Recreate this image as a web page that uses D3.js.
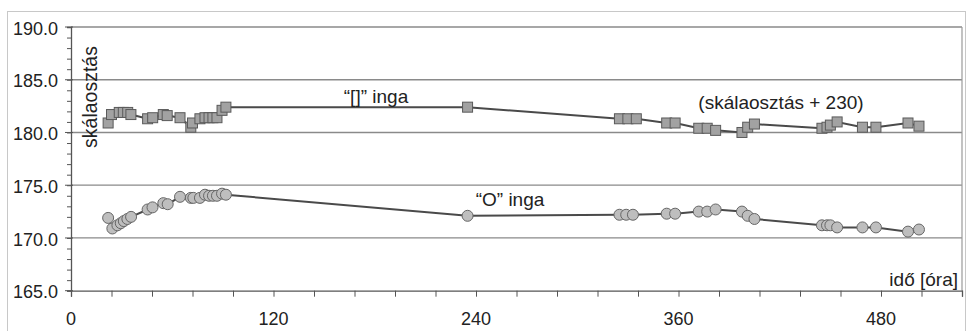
<!DOCTYPE html>
<html>
<head>
<meta charset="utf-8">
<script src="https://cdn.jsdelivr.net/npm/d3@7"></script>
<style>
  body { margin: 0; background: #fff; }
  text { font-family: Arial, "Liberation Sans", sans-serif; fill: #222; }
</style>
</head>
<body>
<div id="chart"></div>
<script>
// "[]" inga (skálaosztás + 230)
const squareX = [22, 24, 28.6, 31, 33.6, 35.5, 45.4, 48.4, 54.7, 57, 64.6, 71, 72, 76.4, 79.4, 81.8, 84.1, 86.5, 89.5, 91.8,
  235, 325, 330, 335, 353, 358, 372, 377, 382, 397.6, 401, 405, 445, 448, 450, 454, 469, 477, 496, 502.5];
const squareY = [180.9, 181.7, 181.9, 181.9, 181.9, 181.7, 181.3, 181.4, 181.7, 181.6, 181.4, 180.5, 180.9, 181.3, 181.4, 181.4, 181.4, 181.4, 182.1, 182.4,
  182.4, 181.3, 181.3, 181.3, 180.9, 180.9, 180.4, 180.4, 180.2, 180.0, 180.5, 180.8, 180.4, 180.5, 180.7, 181.0, 180.5, 180.5, 180.9, 180.6];

// "O" inga
const circleX = [22, 24.5, 27.5, 29.5, 31.3, 33.4, 35.6, 45.4, 48.3, 54.7, 57.3, 64.6, 71, 72.5, 76.4, 79.4, 81.8, 84.1, 86.5, 89.5, 91.8,
  235, 325, 329, 333, 353, 358, 372, 377, 382, 397.6, 401, 405, 445, 448, 450, 454, 469, 477, 496, 502.5];
const circleY = [171.9, 170.9, 171.2, 171.4, 171.6, 171.8, 172.0, 172.7, 172.9, 173.3, 173.2, 173.9, 173.8, 173.8, 173.8, 174.1, 174.0, 174.0, 174.0, 174.2, 174.1,
  172.1, 172.2, 172.2, 172.2, 172.3, 172.3, 172.5, 172.5, 172.7, 172.5, 172.1, 171.8, 171.2, 171.2, 171.2, 171.0, 171.0, 171.0, 170.6, 170.8];

const xTickLabels = [0, 120, 240, 360, 480];
const yTickLabels = [165, 170, 175, 180, 185, 190];

const W = 967, H = 331;
const svg = d3.select('#chart').append('svg').attr('width', W).attr('height', H);

// outer chart frame
svg.append('rect')
  .attr('x', 7.5).attr('y', 11.5)
  .attr('width', 958).attr('height', 330)
  .attr('fill', 'none').attr('stroke', '#c8c8c8');

const x = d3.scaleLinear().domain([0, 528]).range([71, 962]);
const y = d3.scaleLinear().domain([165, 190]).range([290.7, 27]);

// gridlines
svg.append('g')
  .selectAll('line')
  .data([170, 175, 180, 185, 190])
  .enter().append('line')
  .attr('x1', x(0)).attr('x2', x(528))
  .attr('y1', d => y(d)).attr('y2', d => y(d))
  .attr('stroke', '#8a8a8a').attr('stroke-width', 1.3);

// right border of plot area
svg.append('line')
  .attr('x1', x(528)).attr('x2', x(528))
  .attr('y1', y(190)).attr('y2', y(165))
  .attr('stroke', '#9a9a9a').attr('stroke-width', 1.2);

// y axis
const yAxis = svg.append('g').attr('transform', `translate(${x(0)},0)`);
yAxis.call(d3.axisLeft(y).tickValues(d3.range(165, 190.1, 1)).tickSize(4).tickFormat(''));
yAxis.call(g => g.selectAll('.tick line').attr('stroke', '#555'));
yAxis.selectAll('.major')
  .data(yTickLabels)
  .enter().append('line')
  .attr('x1', -6).attr('x2', 2)
  .attr('y1', d => y(d)).attr('y2', d => y(d))
  .attr('stroke', '#555');
yAxis.select('.domain').attr('stroke', '#555').attr('stroke-width', 1.3);
yAxis.selectAll('.lbl')
  .data(yTickLabels)
  .enter().append('text')
  .attr('x', -13).attr('y', d => y(d))
  .attr('dy', '0.42em')
  .attr('text-anchor', 'end')
  .style('font-size', '18px')
  .text(d => d.toFixed(1));

// x axis
const xAxis = svg.append('g').attr('transform', `translate(0,${y(165)})`);
xAxis.call(d3.axisBottom(x).tickValues(d3.range(0, 529, 24)).tickSize(6).tickFormat(''));
xAxis.call(g => g.selectAll('.tick line').attr('stroke', '#555'));
xAxis.select('.domain').attr('stroke', '#555').attr('stroke-width', 1.3);
xAxis.selectAll('.lbl')
  .data(xTickLabels)
  .enter().append('text')
  .attr('x', d => x(d)).attr('y', 34)
  .attr('text-anchor', 'middle')
  .style('font-size', '18px')
  .text(d => d);

const line = d3.line().x(d => x(d[0])).y(d => y(d[1]));
const squares = squareX.map((v, i) => [v, squareY[i]]);
const circles = circleX.map((v, i) => [v, circleY[i]]);

// series lines
svg.append('path').datum(squares).attr('d', line)
  .attr('fill', 'none').attr('stroke', '#4a4a4a').attr('stroke-width', 2);
svg.append('path').datum(circles).attr('d', line)
  .attr('fill', 'none').attr('stroke', '#4a4a4a').attr('stroke-width', 2);

// markers
const SQ = 10;
svg.append('g').selectAll('rect')
  .data(squares)
  .enter().append('rect')
  .attr('x', d => x(d[0]) - SQ / 2).attr('y', d => y(d[1]) - SQ / 2)
  .attr('width', SQ).attr('height', SQ)
  .attr('fill', '#a2a2a2').attr('stroke', '#5a5a5a').attr('stroke-width', 1);

svg.append('g').selectAll('circle')
  .data(circles)
  .enter().append('circle')
  .attr('cx', d => x(d[0])).attr('cy', d => y(d[1]))
  .attr('r', 5.5)
  .attr('fill', '#bebebe').attr('stroke', '#666').attr('stroke-width', 1);

// texts
svg.append('text')
  .attr('transform', `translate(97,97) rotate(-90)`)
  .attr('text-anchor', 'middle')
  .style('font-size', '19.5px')
  .text('skálaosztás');

svg.append('text').attr('x', 376).attr('y', 103).attr('text-anchor', 'middle')
  .style('font-size', '19px').text('“[]” inga');
svg.append('text').attr('x', 781).attr('y', 109).attr('text-anchor', 'middle')
  .style('font-size', '19px').text('(skálaosztás + 230)');
svg.append('text').attr('x', 510).attr('y', 206).attr('text-anchor', 'middle')
  .style('font-size', '19px').text('“O” inga');
svg.append('text').attr('x', 958).attr('y', 286).attr('text-anchor', 'end')
  .style('font-size', '19px').text('idő [óra]');
</script>
</body>
</html>
